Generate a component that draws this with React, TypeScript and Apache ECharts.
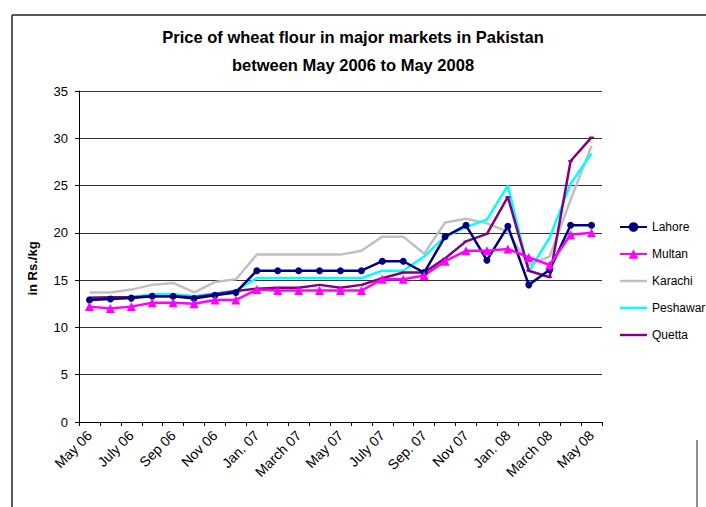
import React, { useEffect, useRef } from "react";
import * as echarts from "echarts";

const months = [
  "May 06", "June 06", "July 06", "Aug 06", "Sep 06", "Oct 06", "Nov 06", "Dec 06",
  "Jan. 07", "Feb. 07", "March 07", "April 07", "May 07", "June 07", "July 07", "Aug. 07",
  "Sep. 07", "Oct 07", "Nov 07", "Dec 07", "Jan. 08", "Feb. 08", "March 08", "April 08", "May 08",
];

const lahore = [12.9, 13.0, 13.1, 13.3, 13.3, 13.05, 13.4, 13.7, 16.0, 16.0, 16.0, 16.0, 16.0, 16.0, 17.0, 17.0, 15.8, 19.6, 20.8, 17.1, 20.7, 14.5, 16.1, 20.8, 20.8];
const multan = [12.2, 12.0, 12.2, 12.6, 12.6, 12.5, 12.9, 12.9, 14.0, 13.9, 13.9, 13.9, 13.9, 13.9, 15.1, 15.1, 15.5, 17.0, 18.1, 18.1, 18.3, 17.4, 16.6, 19.8, 20.0];
const karachi = [13.7, 13.7, 14.0, 14.5, 14.7, 13.7, 14.8, 15.1, 17.7, 17.7, 17.7, 17.7, 17.7, 18.1, 19.6, 19.6, 17.8, 21.1, 21.5, 21.0, 20.1, 16.6, 17.5, 23.5, 29.2];
const peshawar = [13.1, 13.1, 13.2, 13.5, 13.5, 13.3, 13.6, 13.9, 15.2, 15.2, 15.2, 15.2, 15.2, 15.2, 16.0, 16.0, 17.5, 19.6, 20.6, 21.4, 25.0, 15.9, 19.5, 25.2, 28.4];
const quetta = [13.15, 13.2, 13.2, 13.3, 13.3, 13.2, 13.5, 13.85, 14.1, 14.2, 14.2, 14.5, 14.2, 14.5, 15.2, 15.8, 15.8, 17.3, 19.1, 19.9, 23.8, 16.0, 15.3, 27.6, 30.1];

const seriesNames = ["Lahore", "Multan", "Karachi", "Peshawar", "Quetta"];
const titleText = "Price of wheat flour in major markets in Pakistan\nbetween May 2006 to May 2008";
const yAxisName = "in Rs./kg";

const FONT = "'Liberation Sans', Arial, sans-serif";
const LINE_ICON = "path://M0,0 L28,0 L28,2.5 L0,2.5 Z";

export default function App() {
  const ref = useRef<HTMLDivElement>(null);
  useEffect(() => {
    document.body.style.margin = "0";
    const chart = echarts.init(ref.current!, null, { renderer: "svg" });
    chart.setOption({
      animation: false,
      backgroundColor: "#ffffff",
      textStyle: { fontFamily: FONT },
      title: {
        text: titleText,
        left: "center",
        top: 18,
        textStyle: {
          fontFamily: FONT,
          fontSize: 16.5,
          fontWeight: "bold",
          lineHeight: 28,
          color: "#000",
        },
      },
      grid: { left: 79, right: 104, top: 91, bottom: 85, containLabel: false },
      legend: {
        orient: "vertical",
        left: 614,
        top: 216,
        itemWidth: 27,
        itemHeight: 12,
        itemGap: 15,
        data: [
          { name: seriesNames[0] },
          { name: seriesNames[1] },
          { name: seriesNames[2], icon: LINE_ICON },
          { name: seriesNames[3], icon: LINE_ICON },
          { name: seriesNames[4], icon: LINE_ICON },
        ],
        textStyle: { fontSize: 12, color: "#000", fontFamily: FONT },
      },
      xAxis: {
        type: "category",
        data: months,
        boundaryGap: true,
        axisLine: { lineStyle: { color: "#000", width: 1 } },
        axisTick: { show: true, interval: 0, length: 4, lineStyle: { color: "#000" } },
        axisLabel: {
          interval: 1,
          rotate: 45,
          fontSize: 14,
          color: "#000",
          margin: 11,
          fontFamily: FONT,
        },
        splitLine: { show: false },
      },
      yAxis: {
        type: "value",
        min: 0,
        max: 35,
        interval: 5,
        name: yAxisName,
        nameLocation: "middle",
        nameGap: 40,
        nameRotate: 90,
        nameTextStyle: {
          fontSize: 13, fontWeight: "bold", color: "#000", fontFamily: FONT,
          padding: [0, 24, 0, 0],
        },
        axisLine: { show: true, lineStyle: { color: "#000", width: 1 } },
        axisTick: { show: true, length: 4, lineStyle: { color: "#000" } },
        axisLabel: { fontSize: 13, color: "#000", margin: 11, fontFamily: FONT },
        splitLine: { show: true, lineStyle: { color: "#333", width: 1 } },
      },
      series: [
        {
          name: "Karachi", type: "line", data: karachi, symbol: "none",
          lineStyle: { color: "#C0C0C0", width: 2.5 }, itemStyle: { color: "#C0C0C0" },
        },
        {
          name: "Peshawar", type: "line", data: peshawar, symbol: "none",
          lineStyle: { color: "#00FFFF", width: 2.5 }, itemStyle: { color: "#00FFFF" },
        },
        {
          name: "Quetta", type: "line", data: quetta, symbol: "rect", symbolSize: [5, 1.5],
          lineStyle: { color: "#800080", width: 2.5 }, itemStyle: { color: "#800080" },
        },
        {
          name: "Lahore", type: "line", data: lahore, symbol: "circle", symbolSize: 7,
          lineStyle: { color: "#000080", width: 2.5 }, itemStyle: { color: "#000080" },
        },
        {
          name: "Multan", type: "line", data: multan, symbol: "triangle", symbolSize: 9,
          lineStyle: { color: "#FF00FF", width: 2.5 }, itemStyle: { color: "#FF00FF" },
        },
      ],
      graphic: [
        { type: "line", shape: { x1: 12, y1: 15, x2: 706, y2: 15 }, style: { stroke: "#222", lineWidth: 1.5 } },
        { type: "line", shape: { x1: 12, y1: 15, x2: 12, y2: 507 }, style: { stroke: "#222", lineWidth: 1.5 } },
        { type: "line", shape: { x1: 697, y1: 440, x2: 697, y2: 507 }, style: { stroke: "#222", lineWidth: 1 } },
      ],
    });
    return () => chart.dispose();
  }, []);
  return <div ref={ref} style={{ width: 706, height: 507 }} />;
}
